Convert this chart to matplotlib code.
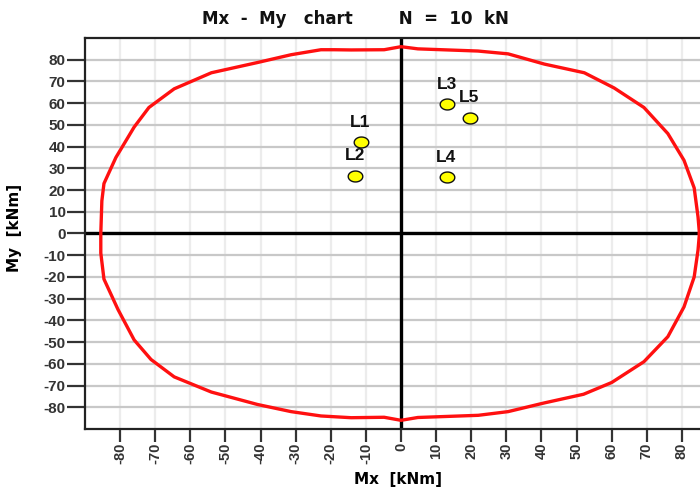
import matplotlib
matplotlib.use("Agg")
import matplotlib.pyplot as plt
import numpy as np
from matplotlib.path import Path

# ---- data ----
curve_mx = [85.0, 84.6, 83.5, 80.6, 76.0, 69.2, 60.7, 52.2, 40.8, 30.5, 21.9, 4.8, 0.0,
            -4.8, -14.2, -19.0, -22.8, -31.3, -40.9, -54.0, -64.6, -71.8, -76.0, -81.2,
            -84.6, -85.2, -85.5, -85.5, -84.6, -80.6, -76.0, -71.2, -64.6, -54.0, -40.9,
            -31.3, -22.8, -14.2, -4.8, 0.0, 4.8, 22.0, 30.5, 40.8, 52.0, 60.0, 69.2, 76.0,
            80.6, 83.5, 84.6, 85.0]
curve_my = [0.0, 7.6, 21.0, 33.7, 46.0, 58.0, 67.0, 74.0, 78.0, 82.7, 84.0, 85.0, 86.0,
            84.6, 84.5, 84.6, 84.6, 82.3, 78.7, 74.0, 66.6, 58.0, 49.0, 35.0,
            23.0, 15.0, 0.0, -9.0, -21.0, -35.0, -49.0, -58.0, -66.0, -73.0, -78.7,
            -82.0, -84.0, -84.8, -84.6, -86.0, -84.7, -83.7, -82.0, -78.0, -74.0, -68.6, -59.0, -47.5,
            -33.8, -20.0, -7.6, 0.0]

load_names = ["L1", "L2", "L3", "L4", "L5"]
load_mx = [-11.4, -13.0, 13.2, 13.1, 19.7]
load_my = [42.0, 26.6, 59.4, 25.9, 53.4]

ticks = list(range(-80, 81, 10))

plt.rcParams['font.family'] = ['Liberation Sans', 'DejaVu Sans']

fig = plt.figure(figsize=(7, 4.9), dpi=100)
ax = fig.add_axes([85/700, 61/490, 632/700, 391/490])
ax.set_xlim(-90, 90)
ax.set_ylim(-90, 90)

ax.set_xticks(ticks)
ax.set_yticks(ticks)
ax.set_xticklabels([str(t) for t in ticks], rotation=90, fontsize=10.5, fontweight='bold', color='#333333')
ax.set_yticklabels([str(t) for t in ticks], fontsize=11, fontweight='bold', color='#333333')
ax.tick_params(axis='y', length=13, width=1.6, color='#333333', pad=1)
ax.tick_params(axis='x', length=9, width=1.6, color='#333333', pad=1)

ax.yaxis.grid(True, color='#c8c8c8', linewidth=1.6)
ax.xaxis.grid(True, color='#ececec', linewidth=1.6)
ax.set_axisbelow(True)

for s in ['left', 'top', 'bottom']:
    ax.spines[s].set_linewidth(1.6)
    ax.spines[s].set_color('#222222')
ax.spines['right'].set_visible(False)

ax.axhline(0, color='black', linewidth=2.4, zorder=2)
ax.axvline(0, color='black', linewidth=2.4, zorder=2)

ax.plot(curve_mx, curve_my, color='#ff1010', linewidth=2.4, zorder=3, solid_joinstyle='round')

t = np.linspace(0, 2*np.pi, 60)
ell = Path(np.column_stack([np.cos(t), 0.75*np.sin(t)]), closed=True)
ax.plot(load_mx, load_my, linestyle='none', marker=ell, markersize=10.5,
        markerfacecolor='#ffff00', markeredgecolor='#111111', markeredgewidth=1.0, zorder=4)
for n, x, y in zip(load_names, load_mx, load_my):
    ax.annotate(n, (x, y), xytext=(-0.5, 14.5), textcoords='offset points',
                ha='center', va='center', fontsize=12.5, fontweight='bold',
                color='#111111', zorder=5)

ax.set_xlabel('Mx  [kNm]', fontsize=11, fontweight='bold', family=['DejaVu Sans'])
ax.xaxis.set_label_coords(0.495, -0.130)
ax.xaxis.label.set_va('center')
ax.set_ylabel('My  [kNm]', fontsize=11, fontweight='bold', family=['DejaVu Sans'])
ax.yaxis.set_label_coords(-0.111, 0.514)
ax.yaxis.label.set_va('center')

fig.text(355/700, 1-18.5/490, 'Mx  -  My   chart        N  =  10  kN', ha='center', va='center',
         fontsize=12, fontweight='bold', color='#111111', family=['DejaVu Sans'])

fig.savefig('out.png', dpi=100)
